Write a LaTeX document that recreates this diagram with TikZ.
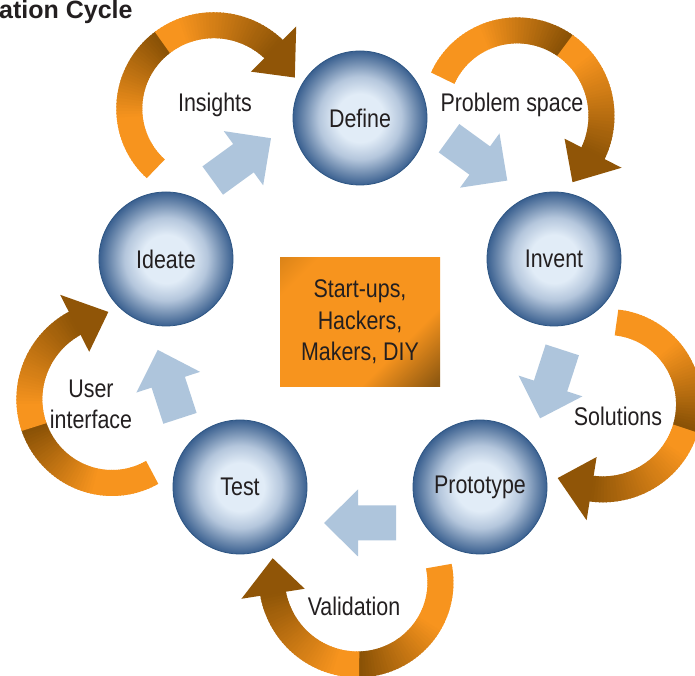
\documentclass[tikz,border=0pt]{standalone}
\usepackage{fontspec}
\setmainfont{Liberation Sans}
\newfontfamily\labelfont{Liberation Sans}[FakeStretch=0.84]
\usetikzlibrary{calc}

\definecolor{orbLight}{HTML}{E1ECF7}
\definecolor{orbMid}{HTML}{B4C6DC}
\definecolor{orbDeep}{HTML}{6D8AAE}
\definecolor{orbDark}{HTML}{3A6090}
\definecolor{orbEdge}{HTML}{2D5583}
\definecolor{flowBlue}{HTML}{AEC5DC}
\definecolor{ribbonLight}{HTML}{F7941E}
\definecolor{ribbonDark}{HTML}{8A5206}
\definecolor{inkGray}{HTML}{231F20}
\definecolor{boxA}{HTML}{B06A0E}
\definecolor{boxB}{HTML}{F7941E}
\definecolor{boxC}{HTML}{8E5810}
\definecolor{boxD}{HTML}{B97413}

% light centre, blue rim (the circle's edge sits at 25bp)
\pgfdeclareradialshading{orb}{\pgfpoint{0bp}{0bp}}{%
  color(0bp)=(orbLight); color(9bp)=(orbLight); color(15.5bp)=(orbMid);
  color(21bp)=(orbDeep); color(25bp)=(orbDark); color(50bp)=(orbDark)}

% diagonal orange fill of the centre box
\pgfdeclarehorizontalshading{hubshade}{100bp}{%
  color(0bp)=(boxA); color(24bp)=(boxB); color(66bp)=(boxB);
  color(84bp)=(boxC); color(100bp)=(boxD)}

\tikzset{
  orbnode/.style={circle, minimum size=134pt, inner sep=0pt, shading=orb,
    draw=orbEdge, line width=0.8pt,
    font=\labelfont\fontsize{25.5}{31}\selectfont, text=inkGray},
  lbl/.style={font=\labelfont\fontsize{25.5}{31}\selectfont, text=inkGray,
    inner sep=0pt, align=center},
  hubbox/.style={rectangle, minimum width=160pt, minimum height=129pt,
    inner sep=0pt, shading=hubshade, shading angle=-45, align=center,
    font=\labelfont\fontsize{25.5}{31.5}\selectfont, text=inkGray},
  flowfill/.style={fill=flowBlue}
}

% straight block arrow, placed at a coordinate and turned to a heading
\newcommand{\flowarrow}[2]{%
  \fill[flowfill, shift={(#1)}, rotate=#2]
    (-36,-17.5) -- (2,-17.5) -- (2,-33.5) -- (36,0) -- (2,33.5)
    -- (2,17.5) -- (-36,17.5) -- cycle;}

% curved ribbon arrow around a point on the outer ring at angle #1,
% nudged by (#2,#3)
\newcommand{\loopribbon}[3]{%
  \begin{scope}[shift={(hub)}]
  \begin{scope}[shift={($(#1:258)+(#2,#3)$)}]
    \pgfmathsetmacro{\rbTail}{#1+100}
    \pgfmathsetmacro{\rbBase}{#1-81}
    \pgfmathsetmacro{\rbTip}{#1-104}
    \foreach \k in {0,...,89}{
      \pgfmathsetmacro{\rbA}{\rbTail-181*\k/90}
      \pgfmathsetmacro{\rbB}{\rbTail-181*(\k+1.4)/90}
      \pgfmathsetmacro{\rbIA}{67+8*\k/90}
      \pgfmathsetmacro{\rbOA}{93+8*\k/90}
      \pgfmathsetmacro{\rbIB}{67+8*(\k+1.4)/90}
      \pgfmathsetmacro{\rbOB}{93+8*(\k+1.4)/90}
      \pgfmathsetmacro{\rbT}{(\k+0.5)/90}
      \pgfmathtruncatemacro{\rbPct}{\rbT<0.55 ?
        100-100*max(0,(\rbT/0.55-0.42)/0.58) :
        100-95*max(0,((\rbT-0.55)/0.45-0.2)/0.8)}
      \fill[ribbonLight!\rbPct!ribbonDark]
        (\rbA:\rbIA) -- (\rbA:\rbOA) -- (\rbB:\rbOB) -- (\rbB:\rbIB) -- cycle;
    }
    \fill[ribbonDark!95!ribbonLight] (\rbBase:56) -- (\rbBase:120) -- (\rbTip:90) -- cycle;
  \end{scope}
  \end{scope}}

\begin{document}
\begin{tikzpicture}[x=1pt, y=1pt]
  \useasboundingbox (0,0) rectangle (695,676);
  \clip (0,0) rectangle (695,676);
  \fill[white] (0,0) rectangle (695,676);

  \coordinate (hub) at (360,354);

  % title
  \node[anchor=base west, inner sep=0pt, text=inkGray,
        font=\bfseries\fontsize{25}{30}\selectfont] (title) at (-1,657.5) {ation Cycle};

  % outer ribbons
  \loopribbon{126}{3}{2}
  \loopribbon{54}{3}{0}
  \loopribbon{-18}{0}{0}
  \loopribbon{-90}{0}{0}
  \loopribbon{198}{0}{0}

  % inner block arrows
  \coordinate (fa1) at ($(hub)+(126:201)$);
  \coordinate (fa2) at ($(hub)+(54:201)$);
  \coordinate (fa3) at ($(hub)+(-18:201)$);
  \coordinate (fa4) at ($(hub)+(-90:201)$);
  \coordinate (fa5) at ($(hub)+(198:201)$);
  \flowarrow{fa1}{36}
  \flowarrow{fa2}{-36}
  \flowarrow{fa3}{-108}
  \flowarrow{fa4}{180}
  \flowarrow{fa5}{108}

  % stages
  \node[orbnode] (define)    at (360,558) {Define};
  \node[orbnode] (invent)    at (554,417) {Invent};
  \node[orbnode] (prototype) at (480,189) {Prototype};
  \node[orbnode] (test)      at (240,189) {Test};
  \node[orbnode] (ideate)    at (166,417) {Ideate};

  % centre box
  \node[hubbox] (core) at (hub) {Start-ups,\\Hackers,\\Makers, DIY};

  % ribbon labels
  \node[lbl] (insights)  at (215,571) {Insights};
  \node[lbl] (problem)   at (512,571) {Problem space};
  \node[lbl] (solutions) at (618,260) {Solutions};
  \node[lbl] (validation) at (354,70) {Validation};
  \node[lbl] (userif)    at (91,272) {User\\interface};
\end{tikzpicture}
\end{document}
